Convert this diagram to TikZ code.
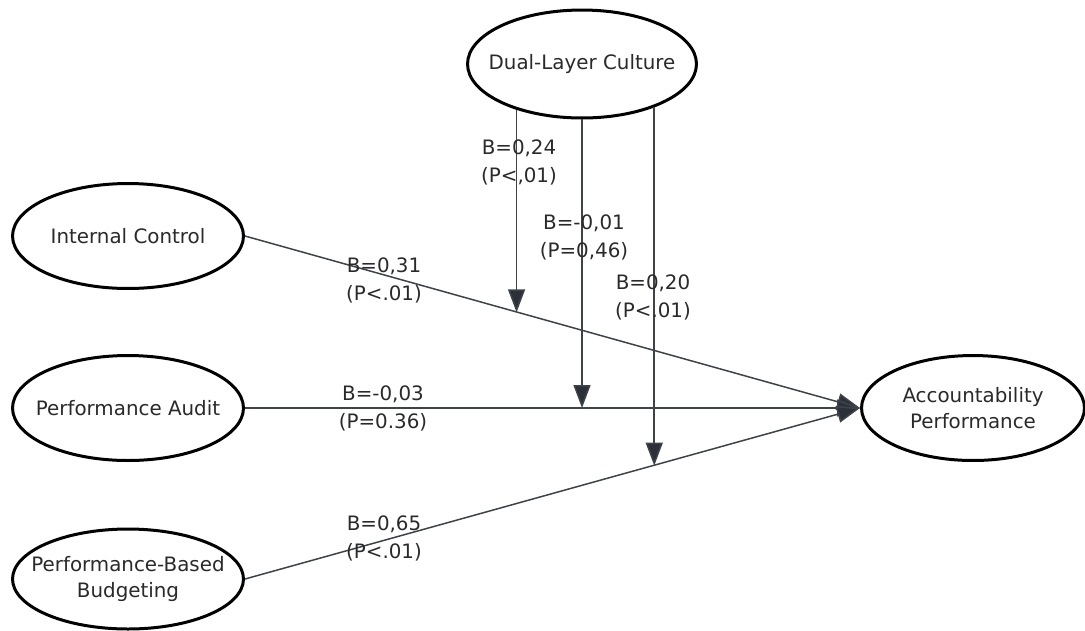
\documentclass[tikz,border=0pt]{standalone}
\usepackage{fontspec}
\setmainfont{DejaVu Sans}
\usetikzlibrary{arrows.meta,calc,shapes.geometric}

\definecolor{edgegray}{HTML}{3E434B}
\definecolor{headgray}{HTML}{2B3039}
\definecolor{textgray}{HTML}{2A2A2A}

\tikzset{
  construct/.style={ellipse, draw=black, line width=0.6mm, fill=white,
    minimum width=4.62cm, minimum height=2.1cm, inner xsep=-0.9cm, inner ysep=-0.2cm,
    align=center, text=textgray, font=\fontsize{11.3}{14.5}\selectfont},
  effect/.style={draw=edgegray, line width=0.3mm,
    -{Triangle[length=0.46cm,width=0.34cm,fill=headgray]}},
  coef/.style={align=center, text=textgray, font=\fontsize{11.3}{16}\selectfont}
}

\begin{document}
\begin{tikzpicture}[x=0.02cm,y=-0.02cm]

            \useasboundingbox (0,0) rectangle (1085,630);

            % constructs
            \node[construct, minimum width=4.58cm, minimum height=2.16cm] (dlc) at (582,64) {Dual-Layer Culture};
            \node[construct] (ic) at (128,236) {Internal Control};
            \node[construct] (pa) at (128,408) {Performance Audit};
            \node[construct, minimum height=2.0cm] (pbb) at (128,579) {Performance-Based\\Budgeting};
            \node[construct, minimum width=4.46cm] (acc) at (973,408) {Accountability\\Performance};

            % direct effects
            \draw[effect] (ic.east) -- (acc.west);
            \draw[effect] (pa.east) -- (acc.west);
            \draw[effect] (pbb.east) -- (acc.west);

            % moderation
            \coordinate (t1) at ($(ic.east)!0.444!(acc.west)$);
            \coordinate (t2) at ($(pa.east)!0.548!(acc.west)$);
            \coordinate (t3) at ($(pbb.east)!0.663!(acc.west)$);
            \draw[effect] (dlc.215) -- (dlc.215 |- t1);
            \draw[effect] (dlc.south) -- (dlc.south |- t2);
            \draw[effect] (dlc.-31) -- (dlc.-31 |- t3);

            \node[coef] (c1) at (519,162) {B=0,24\\(P<,01)};
            \node[coef] (c2) at (584,237) {B=-0,01\\(P=0,46)};
            \node[coef] (c3) at (653,297) {B=0,20\\(P<.01)};
            \node[coef] (c4) at (384,280) {B=0,31\\(P<.01)};
            \node[coef] (c5) at (383,408) {B=-0,03\\(P=0.36)};
            \node[coef] (c6) at (384,538) {B=0,65\\(P<.01)};

\end{tikzpicture}
\end{document}
